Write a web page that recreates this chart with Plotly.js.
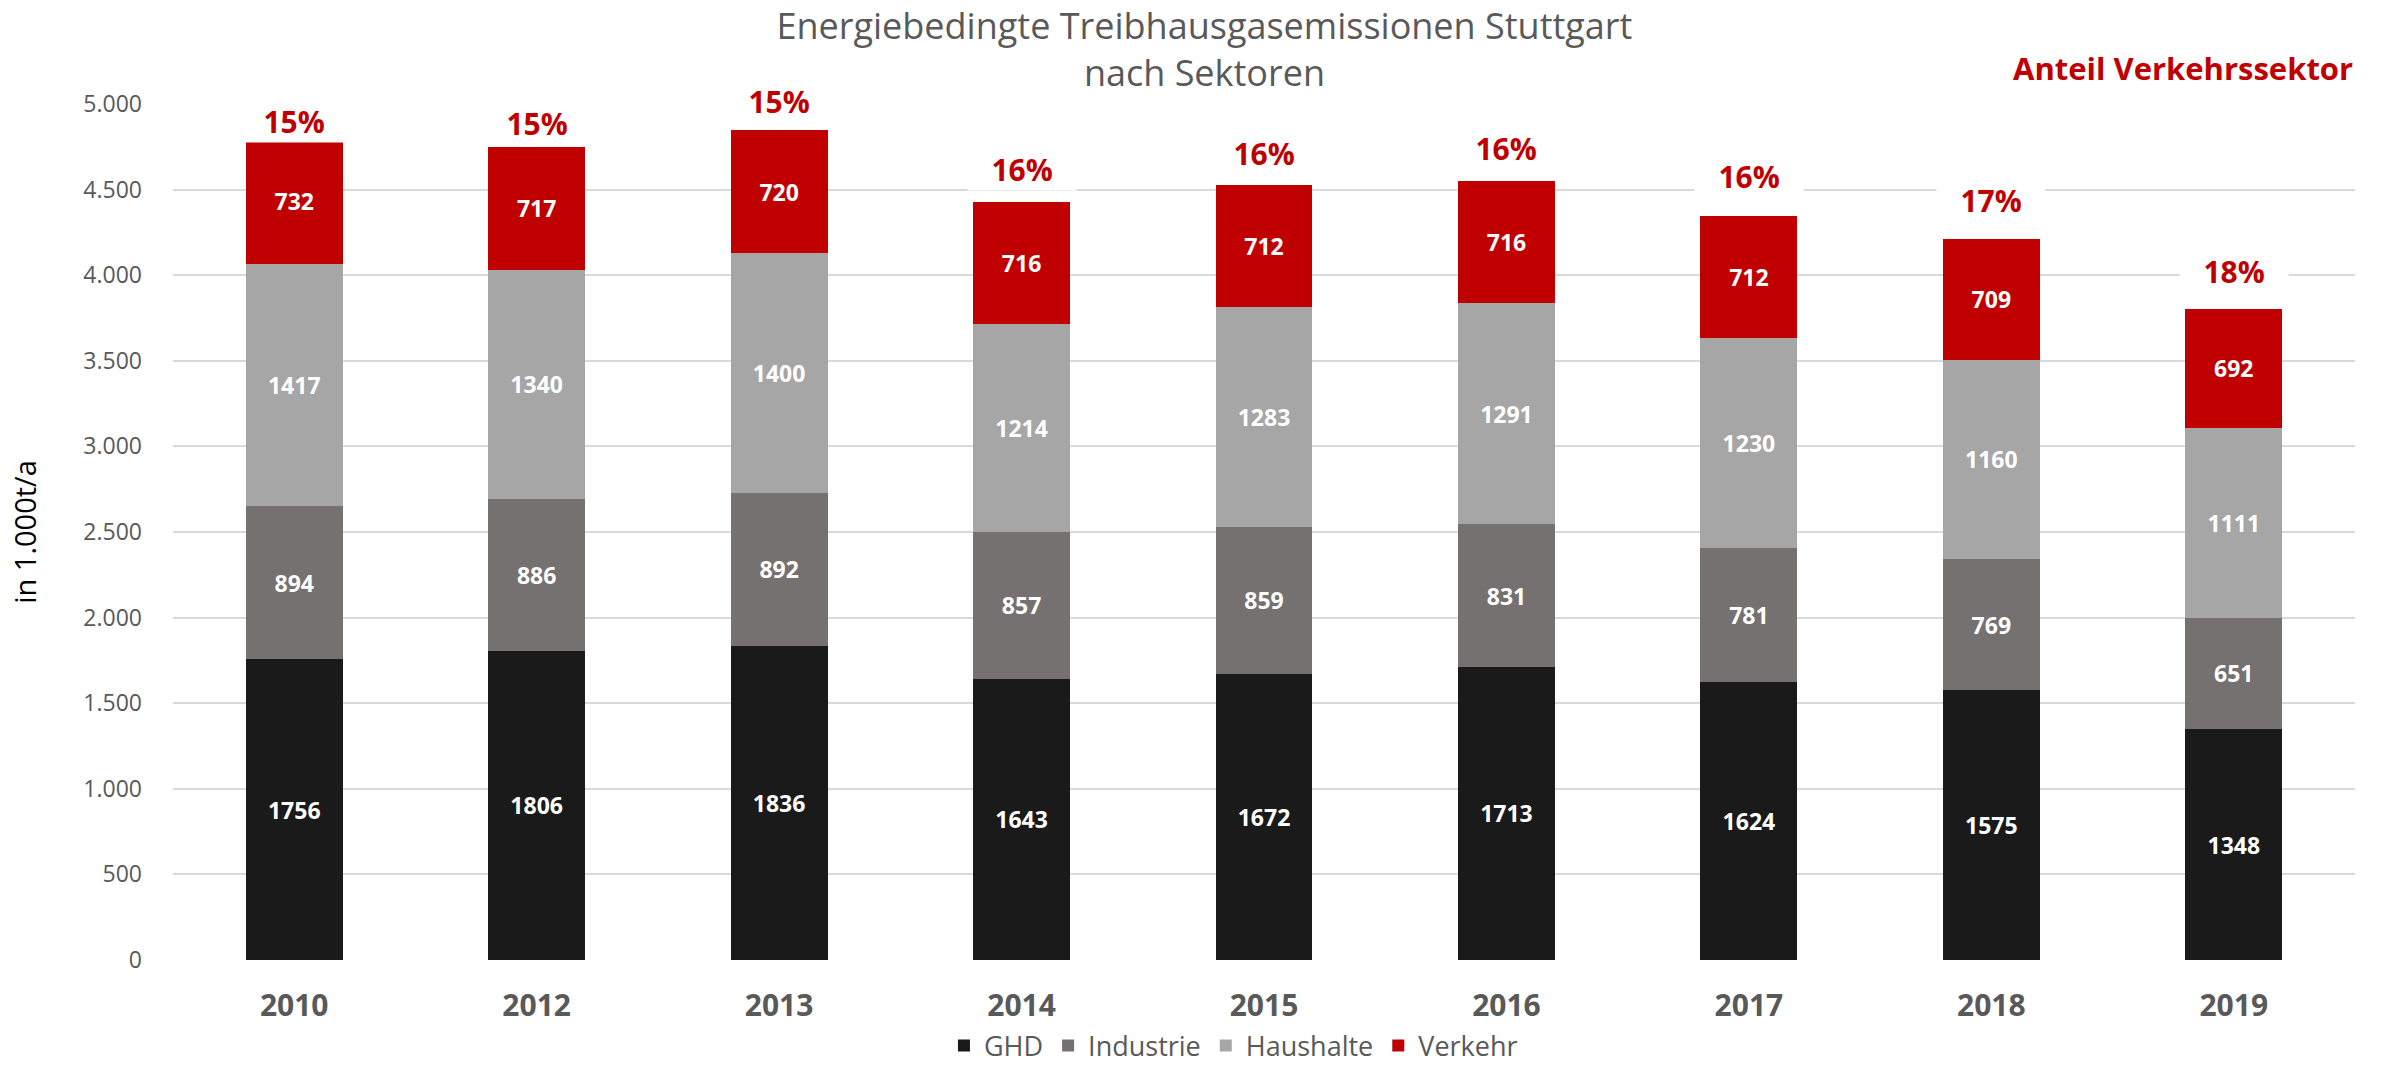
<!DOCTYPE html>
<html>
<head>
<meta charset="utf-8">
<script src="https://cdn.plot.ly/plotly-3.0.1.min.js"></script>
<style>html,body{margin:0;padding:0;background:#fff;}#chart{width:2386px;height:1065px;}</style>
</head>
<body>
<div id="chart"></div>
<script>
const years = ['2010','2012','2013','2014','2015','2016','2017','2018','2019'];
const ghd = [1756,1806,1836,1643,1672,1713,1624,1575,1348];
const industrie = [894,886,892,857,859,831,781,769,651];
const haushalte = [1417,1340,1400,1214,1283,1291,1230,1160,1111];
const verkehr = [732,717,720,716,712,716,712,709,692];
const shares = [15,15,15,16,16,16,16,17,18];
const seriesNames = ['GHD','Industrie','Haushalte','Verkehr'];

const colors = ['#1a1a1a','#767171','#a6a6a6','#c00000'];
const labelShift = [17,23,29,32,32,32,39,38,38];
const FONT = 'Open Sans, Noto Sans, sans-serif';

const seriesData = [ghd, industrie, haushalte, verkehr];
const traces = seriesData.map((vals, k) => ({
  type: 'bar',
  name: seriesNames[k],
  x: years,
  y: vals,
  text: vals.map(String),
  texttemplate: '%{text}',
  textposition: 'inside',
  insidetextanchor: 'middle',
  textangle: 0,
  constraintext: 'none',
  textfont: {family: FONT, size: 23, color: '#ffffff', weight: 'bold'},
  insidetextfont: {family: FONT, size: 23, color: '#ffffff', weight: 'bold'},
  marker: {color: colors[k], line: {width: 0}},
  hoverinfo: 'skip'
}));

const totals = years.map((_, i) => seriesData.reduce((s, arr) => s + arr[i], 0));
const nb = '\u00a0\u00a0\u00a0';
const annotations = years.map((yr, i) => ({
  x: i, y: totals[i], xref: 'x', yref: 'y',
  text: nb + shares[i] + '%' + nb,
  showarrow: false,
  xanchor: 'center', yanchor: 'middle',
  yshift: labelShift[i],
  bgcolor: '#ffffff',
  borderpad: 0,
  font: {family: FONT, size: 30, color: '#c00000', weight: 'bold'}
}));
annotations.push({
  x: 1, xref: 'paper', xanchor: 'right',
  y: 1.042, yref: 'paper', yanchor: 'middle',
  text: 'Anteil Verkehrssektor',
  showarrow: false,
  font: {family: FONT, size: 31, color: '#c00000', weight: 'bold'}
});

const layout = {
  width: 2386, height: 1065,
  margin: {l: 173, r: 31, t: 104, b: 105, pad: 0, autoexpand: false},
  paper_bgcolor: '#ffffff', plot_bgcolor: '#ffffff',
  separators: ',.',
  barmode: 'stack',
  bargap: 0.6,
  font: {family: FONT, color: '#595959'},
  title: {
    text: 'Energiebedingte Treibhausgasemissionen Stuttgart<br>nach Sektoren',
    font: {family: FONT, size: 36, color: '#595959'},
    x: 0.5048, xref: 'container', xanchor: 'center',
    y: 0.963, yref: 'container', yanchor: 'top'
  },
  xaxis: {
    type: 'category',
    range: [-0.5, years.length - 0.5],
    showgrid: false, showline: false, zeroline: false, ticks: '',
    tickfont: {family: FONT, size: 30, color: '#595959', weight: 'bold'},
    ticklabelstandoff: 25
  },
  yaxis: {
    range: [0, 5000], dtick: 500, tick0: 0,
    tickformat: ',d',
    showgrid: true, gridcolor: '#d9d9d9', gridwidth: 2,
    zeroline: false, showline: false, ticks: '',
    tickfont: {family: FONT, size: 23, color: '#595959'},
    ticklabelstandoff: 30,
    title: {text: 'in 1.000t/a', font: {family: FONT, size: 29, color: '#000000'}, standoff: 38}
  },
  showlegend: true,
  legend: {
    orientation: 'h',
    x: 0.486, xanchor: 'center',
    y: -0.1005, yanchor: 'middle',
    font: {family: FONT, size: 27, color: '#595959'},
    itemwidth: 30,
    traceorder: 'normal',
    bgcolor: 'rgba(0,0,0,0)'
  },
  annotations: annotations,
  hovermode: false
};

Plotly.newPlot('chart', traces, layout, {staticPlot: true, displayModeBar: false});
</script>
</body>
</html>
